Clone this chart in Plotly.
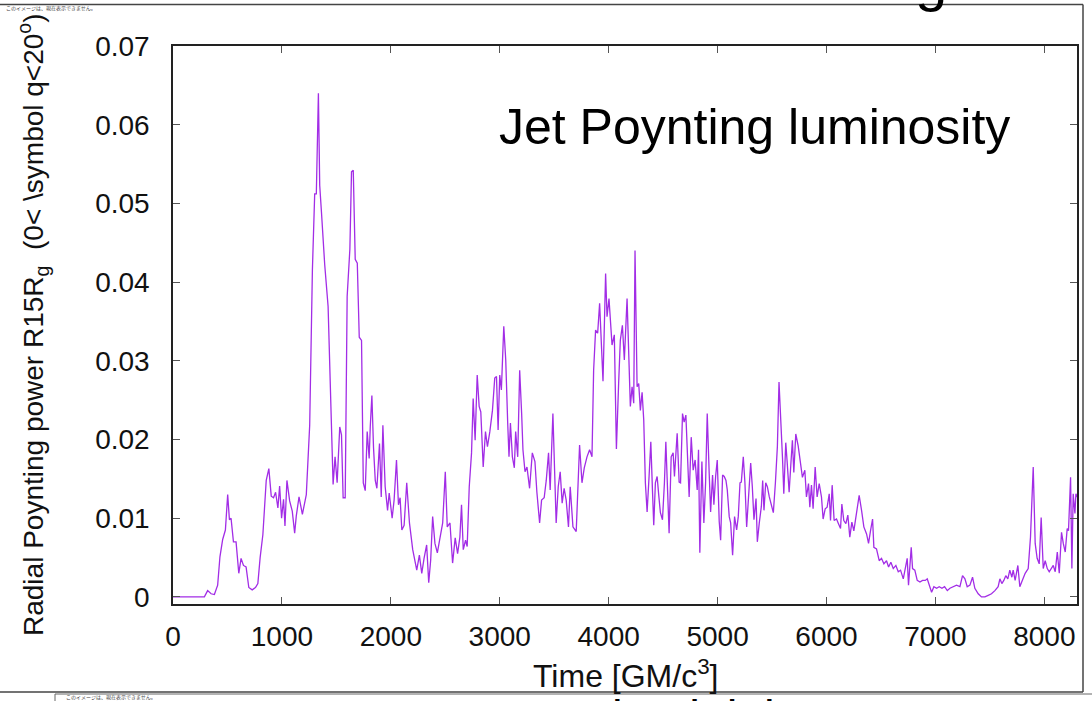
import plotly.graph_objects as go

# ---------------- data ----------------
time_gm = [
    0, 150, 288, 318, 350, 380, 410, 431, 456, 481,
    502, 518, 533, 555, 579, 604, 625, 647, 671, 696,
    727, 757, 779, 800, 825, 856, 880, 902, 923, 942,
    963, 979, 997, 1015, 1028, 1046, 1071, 1095, 1117, 1132,
    1157, 1188, 1224, 1255, 1280, 1301, 1316, 1335, 1347, 1363,
    1393, 1424, 1455, 1470, 1488, 1507, 1531, 1547, 1562, 1581,
    1599, 1624, 1639, 1655, 1673, 1692, 1710, 1731, 1747, 1765,
    1783, 1801,
    1811, 1826, 1841, 1857, 1872, 1896, 1912, 1927, 1948, 1970,
    1985, 2012, 2030, 2052, 2070, 2085, 2101, 2122, 2146, 2171,
    2201, 2223, 2238, 2262, 2284, 2305, 2329, 2348, 2366, 2384,
    2405, 2427, 2451, 2476, 2500, 2518, 2543, 2567, 2591, 2613,
    2634, 2649, 2665, 2686, 2701, 2720, 2741, 2756, 2774, 2793,
    2811, 2826, 2848, 2869, 2887, 2909, 2933, 2954, 2970, 2985,
    3000, 3015, 3037, 3055, 3073, 3085, 3098, 3116, 3134, 3146,
    3165, 3183, 3201, 3213, 3232, 3250, 3274, 3299, 3323, 3341,
    3366, 3384, 3408, 3427, 3448, 3463, 3488, 3503, 3518, 3537,
    3555, 3573, 3591, 3610, 3631,
    3647, 3672, 3702, 3733, 3755, 3776, 3801, 3825, 3847, 3862,
    3880, 3899, 3917, 3929, 3948, 3972, 3985, 4003, 4031, 4052,
    4071, 4092, 4107, 4126, 4144, 4169, 4199, 4215, 4230, 4242,
    4261, 4276, 4291, 4307, 4322, 4337, 4353, 4371, 4387, 4402,
    4414, 4429, 4445, 4460, 4475, 4494, 4512, 4525, 4537, 4555,
    4574, 4592, 4604, 4629, 4647, 4660, 4678, 4693, 4709, 4721,
    4739, 4758, 4776, 4794, 4813, 4825, 4837, 4856, 4874, 4890,
    4905, 4923, 4936, 4954, 4966, 4982, 4997, 5015, 5028, 5046,
    5061, 5077, 5089, 5107, 5120, 5138, 5156, 5175, 5190, 5206,
    5218, 5236, 5251, 5267, 5285, 5304, 5319, 5334, 5353, 5365,
    5383, 5402, 5414, 5426, 5442, 5457, 5475, 5494, 5512, 5531,
    5549, 5564,
    5587, 5596, 5608, 5626, 5639, 5657, 5672, 5687, 5700, 5718,
    5740, 5761, 5779, 5801, 5816, 5835, 5847, 5862, 5877, 5896,
    5914, 5933, 5954, 5969, 5988, 6006, 6025, 6037, 6052, 6070,
    6092, 6110, 6129, 6141, 6159, 6178, 6196, 6214, 6233, 6251,
    6276, 6300, 6322, 6343, 6368, 6386, 6404, 6423, 6435, 6459,
    6484, 6505, 6527, 6551, 6570, 6591, 6613, 6637, 6659, 6680,
    6705, 6729, 6741, 6753, 6778, 6790, 6811, 6833, 6858, 6882,
    6907, 6925, 6943, 6965, 6986, 7011, 7035, 7060, 7084, 7109,
    7133, 7164, 7194, 7225, 7249, 7271, 7292, 7317, 7341, 7362,
    7393, 7423, 7454, 7485, 7515, 7546, 7576, 7592, 7610, 7628,
    7646, 7665, 7683, 7702, 7714, 7732, 7757, 7775, 7800, 7824,
    7852, 7873, 7898, 7916, 7934, 7953, 7971, 7990, 8008, 8027,
    8045, 8064, 8082, 8100, 8119, 8137, 8158, 8174, 8192, 8210,
    8222, 8241, 8253, 8265, 8281, 8290, 8310,
]

poynting_power = [
    0, 0, 0, 0.0008, 0.0004, 0.0003, 0.0015, 0.0051, 0.0073, 0.0085,
    0.013, 0.0098, 0.010, 0.007, 0.007, 0.003, 0.0049, 0.004, 0.0038, 0.0012,
    0.0009, 0.0012, 0.0017, 0.005, 0.0079, 0.0148, 0.0163, 0.0128, 0.0126, 0.0133,
    0.0113, 0.0141, 0.010, 0.0124, 0.009, 0.0148, 0.0122, 0.0109, 0.0081, 0.0103,
    0.0127, 0.0105, 0.013, 0.0218, 0.0416, 0.0512, 0.0512, 0.064, 0.0523, 0.0489,
    0.0422, 0.0369, 0.0218, 0.0143, 0.0178, 0.0145, 0.0216, 0.0206, 0.0126, 0.0126,
    0.0382, 0.0442, 0.054, 0.0542, 0.0429, 0.0424, 0.033, 0.0326, 0.0145, 0.0135,
    0.021, 0.0176,
    0.0216, 0.0256, 0.019, 0.0148, 0.0138, 0.0195, 0.0127, 0.0218, 0.014, 0.011,
    0.0132, 0.010, 0.0123, 0.0174, 0.0117, 0.0126, 0.0085, 0.0091, 0.0145, 0.0094,
    0.006, 0.0043, 0.0034, 0.0053, 0.003, 0.0049, 0.0066, 0.0018, 0.0047, 0.0102,
    0.0068, 0.0056, 0.0075, 0.0094, 0.0159, 0.0089, 0.0094, 0.0043, 0.0075, 0.0055,
    0.0076, 0.0117, 0.006, 0.0072, 0.0064, 0.014, 0.0183, 0.0252, 0.0199, 0.0282,
    0.0242, 0.0235, 0.0165, 0.021, 0.0191, 0.021, 0.0237, 0.0278, 0.028, 0.0212,
    0.0282, 0.0263, 0.0344, 0.0301, 0.0221, 0.0178, 0.0221, 0.0178, 0.0164, 0.021,
    0.0178, 0.0288, 0.0233, 0.0187, 0.0159, 0.0165, 0.0138, 0.0183, 0.0172, 0.0133,
    0.0094, 0.0123, 0.0126, 0.0148, 0.0183, 0.0136, 0.0233, 0.0148, 0.0094, 0.014,
    0.0159, 0.0119, 0.0138, 0.0123, 0.0089,
    0.014, 0.0089, 0.0083, 0.0193, 0.0145, 0.0164, 0.0178, 0.0187, 0.0178, 0.0288,
    0.0339, 0.0335, 0.0373, 0.0326, 0.0274, 0.0411, 0.0356, 0.0379, 0.032, 0.0333,
    0.0188, 0.0273, 0.0326, 0.0345, 0.0301, 0.0379, 0.0242, 0.0267, 0.0246, 0.044,
    0.0267, 0.0271, 0.0237, 0.026, 0.0225, 0.0145, 0.0108, 0.0153, 0.0197, 0.0136,
    0.0091, 0.0145, 0.0153, 0.0129, 0.0107, 0.0098, 0.0145, 0.0197, 0.0145, 0.0081,
    0.0178, 0.0183, 0.0153, 0.0208, 0.0146, 0.0145, 0.0233, 0.0222, 0.0231, 0.0191,
    0.0127, 0.0203, 0.0161, 0.0174, 0.0136, 0.0187, 0.0056, 0.0172, 0.0094, 0.0145,
    0.0233, 0.0157, 0.0108, 0.0155, 0.0117, 0.0153, 0.0174, 0.0096, 0.0072, 0.0155,
    0.0153, 0.0148, 0.0136, 0.0102, 0.0094, 0.0053, 0.0102, 0.0085, 0.0102, 0.0145,
    0.0146, 0.0178, 0.0145, 0.0089, 0.0132, 0.017, 0.014, 0.0098, 0.0125, 0.007,
    0.0094, 0.0115, 0.0148, 0.011, 0.0145, 0.014, 0.0127, 0.0115, 0.0107, 0.0145,
    0.0191, 0.0273,
    0.0215, 0.0177, 0.0131, 0.0196, 0.0171, 0.0133, 0.0167, 0.0199, 0.0158, 0.0207,
    0.0192, 0.0169, 0.0152, 0.0161, 0.0127, 0.0144, 0.0114, 0.0142, 0.0112, 0.0165,
    0.0127, 0.0144, 0.0127, 0.0099, 0.0112, 0.0114, 0.0131, 0.0097, 0.0142, 0.0097,
    0.0099, 0.0093, 0.0087, 0.0118, 0.0097, 0.0093, 0.0104, 0.0076, 0.0095, 0.0084,
    0.0108, 0.0129, 0.011, 0.0089, 0.008, 0.0068, 0.0084, 0.0099, 0.0063, 0.0061,
    0.0046, 0.0049, 0.0042, 0.0046, 0.0038, 0.0044, 0.0036, 0.004, 0.0032, 0.0034,
    0.0023, 0.0038, 0.0049, 0.0015, 0.0063, 0.0036, 0.0034, 0.0021, 0.0019, 0.0021,
    0.0021, 0.0023, 0.0015, 0.0006, 0.0013, 0.0011, 0.0013, 0.0011, 0.0013, 0.0008,
    0.0011, 0.0013, 0.0015, 0.0013, 0.0027, 0.0023, 0.0013, 0.0015, 0.0025, 0.0011,
    0.0004, 0.0, 0.0, 0.0002, 0.0004, 0.0008, 0.0013, 0.0023, 0.0017, 0.0021,
    0.0027, 0.0023, 0.0034, 0.0025, 0.0034, 0.0021, 0.004, 0.0013, 0.0023, 0.003,
    0.0036, 0.0076, 0.0165, 0.0068, 0.0049, 0.0042, 0.0101, 0.0036, 0.0046, 0.0036,
    0.0032, 0.0036, 0.004, 0.0032, 0.0057, 0.003, 0.0082, 0.0068, 0.0057, 0.0087,
    0.0084, 0.0152, 0.0036, 0.0131, 0.0106, 0.0131, 0.0125,
]

x_tick_values = [0, 1000, 2000, 3000, 4000, 5000, 6000, 7000, 8000]
x_tick_labels = ["0", "1000", "2000", "3000", "4000", "5000", "6000", "7000", "8000"]
y_tick_values = [0, 0.01, 0.02, 0.03, 0.04, 0.05, 0.06, 0.07]
y_tick_labels = ["0", "0.01", "0.02", "0.03", "0.04", "0.05", "0.06", "0.07"]

assert len(time_gm) == len(poynting_power)

# ---------------- layout helpers (pixel -> paper) ----------------
W, H = 1092, 701
L, R, T, B = 173, 1077, 46, 604


def px(x):
    return (x - L) / (R - L)


def py(y):
    return (B - y) / (B - T)


FONT = "Liberation Sans, Arial, Helvetica, sans-serif"
CJK = "Noto Sans CJK JP, sans-serif"

fig = go.Figure()
fig.add_trace(go.Scatter(
    x=time_gm, y=poynting_power, mode="lines",
    line=dict(color="#a22de6", width=1.3),
    showlegend=False, hoverinfo="skip",
))

axis_common = dict(
    showgrid=False, zeroline=False, showline=True, linecolor="#222222",
    linewidth=1.5, mirror="allticks", ticks="inside", ticklen=7,
    tickwidth=1.2, tickcolor="#555555",
    tickfont=dict(family=FONT, size=28, color="#111111"),
)

fig.update_layout(
    width=W, height=H,
    margin=dict(l=L, r=W - R, t=T, b=H - B),
    paper_bgcolor="white", plot_bgcolor="white",
    xaxis=dict(range=[0, 8300], tickvals=x_tick_values, ticktext=x_tick_labels,
               ticklabelstandoff=7, **axis_common),
    yaxis=dict(range=[-0.0009, 0.07], tickvals=y_tick_values, ticktext=y_tick_labels,
               ticklabelstandoff=16, **axis_common),
)

annotations = [
    dict(text="Time [GM/c<sup>3</sup>]", x=px(625), y=py(674), xref="paper", yref="paper",
         xanchor="center", yanchor="middle", showarrow=False,
         font=dict(family=FONT, size=32, color="#111111")),
    dict(text="Radial Poynting power R15R<sub>g</sub>  (0< \\symbol q<20<sup>o</sup>)",
         x=px(33), y=py(325), xref="paper", yref="paper", textangle=-90,
         xanchor="center", yanchor="middle", showarrow=False,
         font=dict(family=FONT, size=28, color="#111111")),
    dict(text="Jet Poynting luminosity", x=px(497), y=py(127), xref="paper", yref="paper",
         xanchor="left", yanchor="middle", showarrow=False,
         font=dict(family=FONT, size=50, color="#000000")),
    dict(text="g", x=px(931), y=py(14), xref="paper", yref="paper",
         xanchor="center", yanchor="bottom", showarrow=False,
         font=dict(family=FONT, size=58, color="#000000")),
    dict(text="このイメージは、現在表示できません。", x=px(4), y=py(8), xref="paper", yref="paper",
         xanchor="left", yanchor="middle", showarrow=False,
         font=dict(family=CJK, size=5, color="#444444")),
    dict(text="このイメージは、現在表示できません。", x=px(64), y=py(697), xref="paper", yref="paper",
         xanchor="left", yanchor="middle", showarrow=False,
         font=dict(family=CJK, size=5, color="#444444")),
    dict(text="l  t  l  l  l  D", x=px(610), y=py(689), xref="paper", yref="paper",
         xanchor="left", yanchor="top", showarrow=False,
         font=dict(family=FONT, size=48, color="#000000")),
]
fig.update_layout(annotations=annotations)

line_style = dict(color="#444444", width=1.5)
shapes = [
    dict(type="line", xref="paper", yref="paper", x0=px(0), x1=px(1083), y0=py(4.5), y1=py(4.5), line=line_style),
    dict(type="line", xref="paper", yref="paper", x0=px(1083), x1=px(1083), y0=py(4.5), y1=py(692), line=line_style),
    dict(type="line", xref="paper", yref="paper", x0=px(0), x1=px(1083), y0=py(692), y1=py(692), line=line_style),
    dict(type="line", xref="paper", yref="paper", x0=px(55), x1=px(1092), y0=py(694), y1=py(694), line=dict(color="#666666", width=1)),
    dict(type="line", xref="paper", yref="paper", x0=px(55), x1=px(55), y0=py(694), y1=py(701), line=dict(color="#666666", width=1)),
]
fig.update_layout(shapes=shapes)

fig.write_html(
    "out.html",
    config={"displayModeBar": False},
    post_script="document.body.style.margin='0px';document.body.style.padding='0px';document.body.style.overflow='hidden';",
)
